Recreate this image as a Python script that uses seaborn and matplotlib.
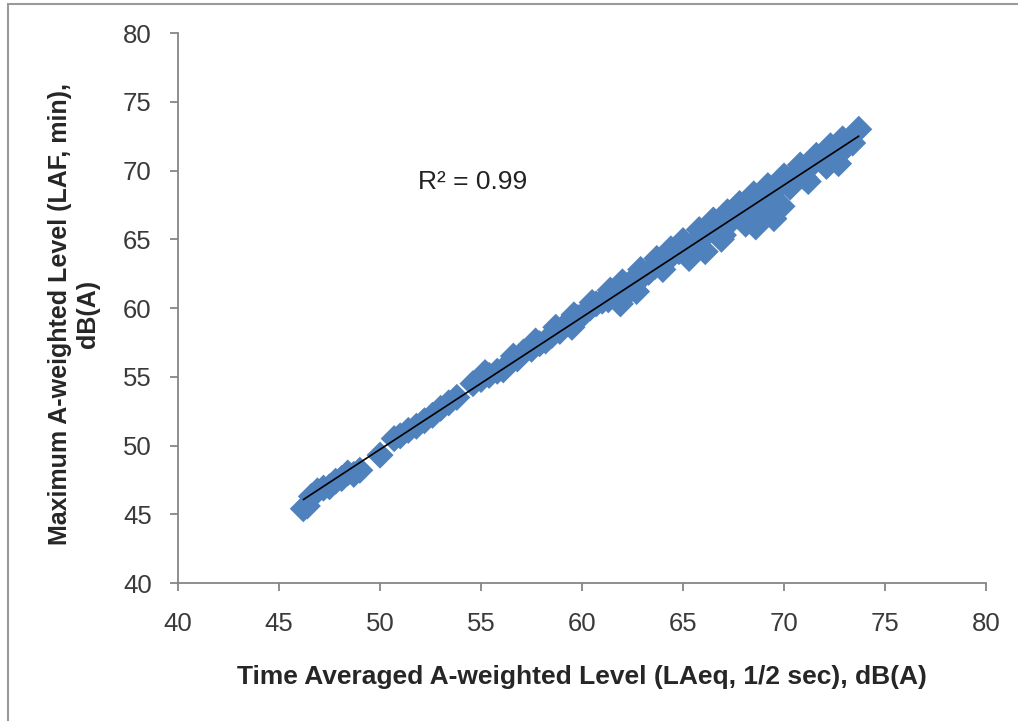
import matplotlib
matplotlib.use('Agg')
import matplotlib.pyplot as plt
import seaborn as sns
import pandas as pd
from matplotlib.patches import Rectangle

# time averaged level LAeq (x) vs LAF level (y), dB(A)
laeq = [46.2, 46.4, 46.6, 46.9, 47.2, 47.5, 47.8, 48.1, 48.4, 48.7, 49.0,
        50.0, 50.7, 51.0, 51.4, 51.8, 52.2, 52.6, 53.0, 53.4, 53.8,
        54.6, 55.0, 55.4, 55.8, 56.1, 56.4, 56.8, 57.1, 57.5, 57.9,
        58.2, 58.5, 58.9, 59.2, 59.5, 59.8, 60.1, 60.4, 60.7, 61.0,
        61.3, 61.6, 61.9, 62.2, 62.5, 62.7, 63.0, 63.3, 63.6, 63.9,
        64.2, 64.5, 64.8, 65.1, 65.3, 65.6, 65.9, 66.1, 66.3, 66.6,
        66.8, 67.0, 67.3, 67.6, 67.9, 68.1, 68.4, 68.6, 68.9, 69.1,
        69.3, 69.5, 69.7, 69.9, 70.1, 70.3, 70.6, 70.9, 71.2, 71.5,
        71.8, 72.1, 72.4, 72.7, 73.0, 73.4, 73.7,
        55.2, 56.6, 57.7, 58.7, 59.6, 60.5, 61.4, 62.0, 62.9, 63.7,
        64.4, 65.0, 65.8, 66.5, 67.2, 67.8, 68.5, 69.2, 70.0, 70.8,
        71.6, 72.3, 72.9, 62.4, 64.0, 66.9, 68.8, 69.6, 71.0]
lafmax = [45.4, 45.6, 46.3, 46.7, 46.9, 47.0, 47.4, 47.6, 48.0, 47.9, 48.2,
          49.3, 50.5, 50.7, 51.1, 51.4, 51.8, 52.2, 52.7, 53.1, 53.5,
          54.5, 54.8, 55.1, 55.4, 55.5, 56.0, 56.3, 56.8, 57.0, 57.4,
          57.6, 58.0, 58.3, 58.8, 58.6, 59.3, 59.6, 60.0, 60.3, 60.5,
          60.6, 61.0, 60.3, 61.6, 62.0, 61.2, 62.3, 62.6, 63.0, 63.3,
          63.5, 63.9, 64.1, 64.4, 63.6, 64.8, 65.0, 64.1, 65.6, 65.8,
          66.3, 65.3, 66.2, 66.8, 67.0, 66.1, 67.5, 65.9, 68.0, 67.2,
          68.4, 66.5, 68.8, 67.4, 69.4, 68.8, 69.8, 70.2, 69.2, 70.6,
          71.0, 70.3, 71.3, 70.5, 71.6, 72.0, 73.0,
          55.3, 56.5, 57.6, 58.6, 59.5, 60.4, 61.3, 61.9, 62.8, 63.6,
          64.3, 64.9, 65.7, 66.4, 67.0, 67.6, 68.3, 68.9, 69.6, 70.4,
          71.1, 71.8, 72.3, 61.3, 62.8, 65.0, 66.6, 67.1, 69.5]
r2_text = 'R² = 0.99'
xlabel = 'Time Averaged A-weighted Level (LAeq, 1/2 sec), dB(A)'
ylabel = 'Maximum A-weighted Level (LAF, min),\ndB(A)'
ticks = [40, 45, 50, 55, 60, 65, 70, 75, 80]

df = pd.DataFrame({'laeq': laeq, 'laf': lafmax})

sns.set_style('ticks')
plt.rcParams['font.family'] = ['Liberation Sans', 'DejaVu Sans']

fig = plt.figure(figsize=(10.18, 7.21), dpi=100)
ax = fig.add_axes([0.1749, 0.1914, 0.7937, 0.7628])

sns.scatterplot(data=df, x='laeq', y='laf', marker='D', s=190, color='#4F81BD',
                edgecolor='none', linewidth=0, ax=ax, zorder=2)
sns.regplot(data=df, x='laeq', y='laf', scatter=False, ci=None, ax=ax,
            line_kws={'color': 'black', 'lw': 1.2, 'zorder': 3})

ax.set_xlim(40, 80)
ax.set_ylim(40, 80)
ax.set_xticks(ticks)
ax.set_yticks(ticks)
ax.set_xlabel(xlabel, fontsize=19, fontweight='bold', va='center')
ax.set_ylabel(ylabel, fontsize=18, fontweight='bold', va='center', linespacing=1.2)
ax.xaxis.set_label_coords(0.5, -0.171)
ax.yaxis.set_label_coords(-0.1287, 0.49)
ax.tick_params(axis='both', labelsize=18.5, colors='#868686', labelcolor='#3a3a3a',
               length=6, width=1.3)
ax.tick_params(axis='x', pad=15)
ax.tick_params(axis='y', pad=13)
for side in ['left', 'bottom']:
    ax.spines[side].set_color('#868686')
    ax.spines[side].set_linewidth(1.3)
sns.despine(ax=ax)

ax.text(51.9, 69.2, r2_text, fontsize=19, color='#222222', va='center')

fig.patches.append(Rectangle((8 / 1018, -0.1), 1.2, 1.1 - 4 / 721, transform=fig.transFigure,
                             fill=False, edgecolor='#9a9a9a', lw=1.5))

fig.savefig('out.png', dpi=100)
